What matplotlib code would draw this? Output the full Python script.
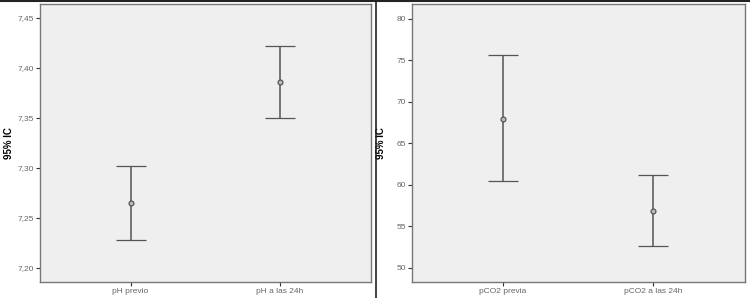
import matplotlib
matplotlib.use('Agg')
import matplotlib.pyplot as plt
from matplotlib.lines import Line2D

plt.rcParams['font.family'] = 'Liberation Sans'

# pH panel
ph_cats = ['pH previo', 'pH a las 24h']
ph_mean = [7.265, 7.386]
ph_low = [7.228, 7.350]
ph_high = [7.302, 7.422]
ph_ticks = [7.20, 7.25, 7.30, 7.35, 7.40, 7.45]
ph_ticklabels = ['7,20', '7,25', '7,30', '7,35', '7,40', '7,45']

# pCO2 panel
co2_cats = ['pCO2 previa', 'pCO2 a las 24h']
co2_mean = [68.0, 56.8]
co2_low = [60.5, 52.6]
co2_high = [75.6, 61.2]
co2_ticks = [50, 55, 60, 65, 70, 75, 80]
co2_ticklabels = ['50', '55', '60', '65', '70', '75', '80']

fig = plt.figure(figsize=(7.5, 2.98), dpi=100)

ax1 = fig.add_axes([40/750, 1-282/298, 331/750, 278/298])
ax2 = fig.add_axes([412/750, 1-282/298, 333/750, 278/298])

def draw(ax, cats, mean, low, high, ticks, ticklabels, ylim):
    x = list(range(len(cats)))
    yerr = [[m - l for m, l in zip(mean, low)], [h - m for m, h in zip(mean, high)]]
    ax.errorbar(x, mean, yerr=yerr, fmt='o', color='#555555', ecolor='#555555',
                elinewidth=1.1, capsize=11, capthick=1.1, markersize=3.5,
                markerfacecolor='#bbbbbb', markeredgecolor='#555555', markeredgewidth=0.9)
    ax.set_facecolor('#efefef')
    ax.set_xlim(-0.607, 1.613)
    ax.set_ylim(*ylim)
    ax.set_xticks(x)
    ax.set_xticklabels(cats)
    ax.set_yticks(ticks)
    ax.set_yticklabels(ticklabels)
    ax.tick_params(axis='both', labelsize=6, colors='#333333', labelcolor='#666666',
                   length=3, width=0.8, pad=1.5)
    for s in ax.spines.values():
        s.set_color('#777777')
        s.set_linewidth(1.0)
    ax.set_ylabel('95% IC', fontsize=7, fontweight='bold')
    ax.yaxis.set_label_coords(-0.078, 0.5)

draw(ax1, ph_cats, ph_mean, ph_low, ph_high, ph_ticks, ph_ticklabels, (7.186, 7.464))
draw(ax2, co2_cats, co2_mean, co2_low, co2_high, co2_ticks, co2_ticklabels, (48.3, 81.8))

# panel separators
fig.add_artist(Line2D([376/750, 376/750], [0, 1], transform=fig.transFigure, color='#222222', lw=1.2))
fig.add_artist(Line2D([0, 1], [1 - 0.5/298, 1 - 0.5/298], transform=fig.transFigure, color='#222222', lw=1.5))

fig.savefig('out.png', dpi=100)
